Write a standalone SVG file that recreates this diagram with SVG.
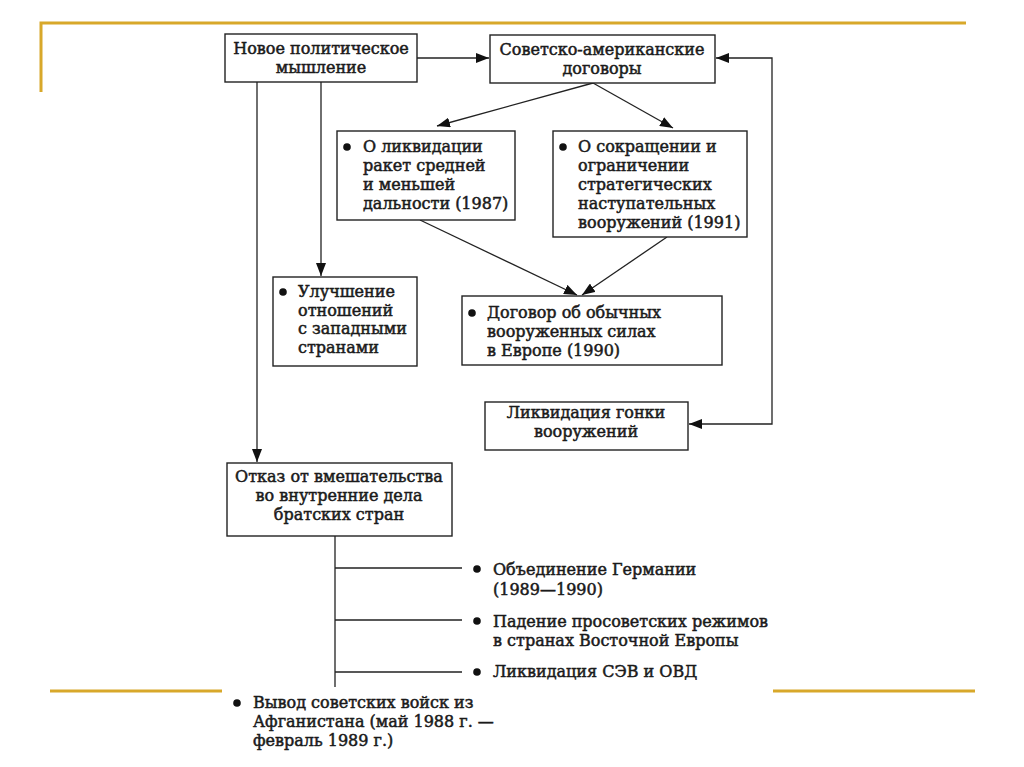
<svg xmlns="http://www.w3.org/2000/svg" width="1024" height="767" viewBox="0 0 1024 767">
<style>
.box{fill:#fff;stroke:#222;stroke-width:1.4}
.t{font-family:'DejaVu Serif','Liberation Serif',serif;font-size:16px;font-weight:normal;fill:#1a1a1a;stroke:#1a1a1a;stroke-width:0.5}
.c{text-anchor:middle}
.ln{fill:none;stroke:#222;stroke-width:1.3}
.gold{stroke:#D8A82A;stroke-width:3;fill:none}
.dot{fill:#111}
</style>
<defs>
<marker id="ah" markerUnits="userSpaceOnUse" markerWidth="14" markerHeight="10" refX="13" refY="5" orient="auto-start-reverse">
<path d="M0,0 L13,5 L0,10 z" fill="#111"/>
</marker>
</defs>
<rect width="1024" height="767" fill="#fff"/>
<g id="frame">
<path class="gold" d="M41,92 V23 H966"/>
<path class="gold" d="M50,691 H222 M773,691 H975"/>
</g>
<g id="connectors">
<path class="ln" d="M417,58 H489" marker-end="url(#ah)"/>
<path class="ln" d="M593,83 L437,126" marker-end="url(#ah)"/>
<path class="ln" d="M593,83 L673,128" marker-end="url(#ah)"/>
<path class="ln" d="M321,82 V276" marker-end="url(#ah)"/>
<path class="ln" d="M257,82 V462" marker-end="url(#ah)"/>
<path class="ln" d="M420,220 L577,295" marker-end="url(#ah)"/>
<path class="ln" d="M667,237 L582,295" marker-end="url(#ah)"/>
<path class="ln" d="M716,58 H772 V424 H689" marker-start="url(#ah)" marker-end="url(#ah)"/>
<path class="ln" d="M335,536 V687 M335,568 H462 M335,620 H462 M335,672 H462"/>
</g>
<g id="n1">
<rect class="box" x="225" y="34" width="192" height="48"/>
<text class="t c" x="321" y="54">Новое политическое</text>
<text class="t c" x="321" y="73">мышление</text>
</g>
<g id="n2">
<rect class="box" x="490" y="35" width="225" height="48"/>
<text class="t c" x="602" y="55">Советско-американские</text>
<text class="t c" x="602" y="74">договоры</text>
</g>
<g id="n3">
<rect class="box" x="337" y="131" width="178" height="89"/>
<circle class="dot" cx="347" cy="147" r="3.8"/>
<text class="t" x="363" y="152">О ликвидации</text>
<text class="t" x="363" y="171">ракет средней</text>
<text class="t" x="363" y="190">и меньшей</text>
<text class="t" x="363" y="209">дальности (1987)</text>
</g>
<g id="n4">
<rect class="box" x="553" y="131" width="194" height="106"/>
<circle class="dot" cx="563" cy="147" r="3.8"/>
<text class="t" x="578" y="152">О сокращении и</text>
<text class="t" x="578" y="171">ограничении</text>
<text class="t" x="578" y="190">стратегических</text>
<text class="t" x="578" y="209">наступательных</text>
<text class="t" x="578" y="228">вооружений (1991)</text>
</g>
<g id="n5">
<rect class="box" x="273" y="277" width="144" height="89"/>
<circle class="dot" cx="283" cy="292" r="3.8"/>
<text class="t" x="298" y="297">Улучшение</text>
<text class="t" x="298" y="316">отношений</text>
<text class="t" x="298" y="334">с западными</text>
<text class="t" x="298" y="353">странами</text>
</g>
<g id="n6">
<rect class="box" x="462" y="296" width="260" height="69"/>
<circle class="dot" cx="472" cy="313" r="3.8"/>
<text class="t" x="487" y="318">Договор об обычных</text>
<text class="t" x="487" y="337">вооруженных силах</text>
<text class="t" x="487" y="356">в Европе (1990)</text>
</g>
<g id="n7">
<rect class="box" x="485" y="402" width="203" height="48"/>
<text class="t c" x="586" y="418">Ликвидация гонки</text>
<text class="t c" x="586" y="437">вооружений</text>
</g>
<g id="n8">
<rect class="box" x="227" y="463" width="225" height="73"/>
<text class="t c" x="339" y="482">Отказ от вмешательства</text>
<text class="t c" x="339" y="501">во внутренние дела</text>
<text class="t c" x="339" y="520">братских стран</text>
</g>
<g id="n9">
<circle class="dot" cx="477" cy="569" r="3.8"/>
<text class="t" x="493" y="575">Объединение Германии</text>
<text class="t" x="493" y="595">(1989—1990)</text>
</g>
<g id="n10">
<circle class="dot" cx="477" cy="621" r="3.8"/>
<text class="t" x="493" y="627">Падение просоветских режимов</text>
<text class="t" x="493" y="646">в странах Восточной Европы</text>
</g>
<g id="n11">
<circle class="dot" cx="477" cy="672" r="3.8"/>
<text class="t" x="493" y="677">Ликвидация СЭВ и ОВД</text>
</g>
<g id="n12">
<circle class="dot" cx="237" cy="703" r="3.8"/>
<text class="t" x="253" y="708">Вывод советских войск из</text>
<text class="t" x="253" y="727">Афганистана (май 1988 г. —</text>
<text class="t" x="253" y="746">февраль 1989 г.)</text>
</g>
</svg>
